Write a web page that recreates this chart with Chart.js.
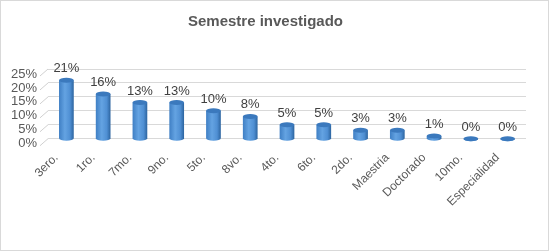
<!DOCTYPE html>
<html>
<head>
<meta charset="utf-8">
<script src="https://cdn.jsdelivr.net/npm/chart.js@4.4.1/dist/chart.umd.min.js"></script>
<style>
  html, body { margin: 0; padding: 0; background: #fff; }
  #caja { width: 549px; height: 251px; box-sizing: border-box; border: 1px solid #d9d9d9; }
  canvas { display: block; }
</style>
</head>
<body>
<div id="caja"><canvas id="grafico" width="547" height="249"></canvas></div>
<script>
const semestres = ['3ero.', '1ro.', '7mo.', '9no.', '5to.', '8vo.', '4to.', '6to.', '2do.', 'Maestria', 'Doctorado', '10mo.', 'Especialidad'];
const porcentajes = [0.21, 0.16, 0.13, 0.13, 0.10, 0.08, 0.05, 0.05, 0.03, 0.03, 0.01, 0.00, 0.00];
const ticksEje = [0, 0.05, 0.10, 0.15, 0.20, 0.25];

// pequeñas diagonales de perspectiva a la izquierda
const fondo3d = {
  id: 'fondo3d',
  afterDraw(chart) {
    const ctx = chart.ctx;
    const area = chart.chartArea;
    const escalaY = chart.scales.y;
    ctx.save();
    ctx.strokeStyle = '#d0d0d0';
    ctx.lineWidth = 1;
    for (const v of ticksEje) {
      const y = escalaY.getPixelForValue(v);
      ctx.beginPath();
      ctx.moveTo(area.left - 8, y + 7);
      ctx.lineTo(area.left, y);
      ctx.stroke();
    }
    ctx.restore();
  }
};

// cilindros y etiquetas de datos
const cilindros = {
  id: 'cilindros',
  afterDatasetsDraw(chart) {
    const { ctx } = chart;
    const meta = chart.getDatasetMeta(0);
    ctx.save();
    meta.data.forEach((barra, i) => {
      const w = barra.width;
      const x0 = barra.x - w / 2;
      const ry = 2.5;
      const top = barra.y;
      const base = barra.base;
      const grad = ctx.createLinearGradient(x0, 0, x0 + w, 0);
      grad.addColorStop(0, '#3f7fc4');
      grad.addColorStop(0.4, '#64a3e2');
      grad.addColorStop(0.75, '#4f8fd3');
      grad.addColorStop(1, '#2c649f');
      ctx.fillStyle = grad;
      ctx.beginPath();
      ctx.moveTo(x0, top);
      ctx.lineTo(x0, base);
      ctx.ellipse(barra.x, base, w / 2, ry, 0, Math.PI, 0, true);
      ctx.lineTo(x0 + w, top);
      ctx.closePath();
      ctx.fill();
      ctx.fillStyle = '#3b79bd';
      ctx.beginPath();
      ctx.ellipse(barra.x, top, w / 2, ry, 0, 0, Math.PI * 2);
      ctx.fill();

      ctx.fillStyle = '#404040';
      ctx.font = '13px "Liberation Sans", Arial, sans-serif';
      ctx.textAlign = 'center';
      ctx.textBaseline = 'bottom';
      ctx.fillText(Math.round(porcentajes[i] * 100) + '%', barra.x, top - 5);
    });
    ctx.restore();
  }
};

new Chart(document.getElementById('grafico'), {
  type: 'bar',
  data: {
    labels: semestres,
    datasets: [{
      data: porcentajes,
      backgroundColor: 'rgba(0,0,0,0)',
      barPercentage: 0.4,
      categoryPercentage: 1
    }]
  },
  options: {
    responsive: false,
    animation: false,
    layout: { padding: { left: 4, right: 22, top: 0, bottom: 37 } },
    plugins: {
      legend: { display: false },
      tooltip: { enabled: false },
      title: {
        display: true,
        text: 'Semestre investigado',
        color: '#595959',
        font: { family: '"Liberation Sans", Arial, sans-serif', size: 15, weight: 'bold' },
        padding: { top: 12, bottom: 38 }
      }
    },
    scales: {
      y: {
        min: 0,
        max: 0.25,
        afterBuildTicks: s => { s.ticks = ticksEje.map(v => ({ value: v })); },
        afterFit: s => { s.width = 43; },
        grid: { display: true, color: '#d9d9d9', lineWidth: 1, drawTicks: false },
        border: { display: false },
        ticks: {
          autoSkip: false,
          padding: 11,
          labelOffset: 5,
          color: '#595959',
          font: { family: '"Liberation Sans", Arial, sans-serif', size: 13 },
          callback: v => Math.round(v * 100) + '%'
        }
      },
      x: {
        afterFit: s => { s.paddingLeft = 0; s.paddingRight = 0; },
        grid: { display: false },
        border: { display: false },
        ticks: {
          autoSkip: false,
          minRotation: 45,
          maxRotation: 45,
          padding: 4,
          labelOffset: -10,
          color: '#595959',
          font: { family: '"Liberation Sans", Arial, sans-serif', size: 12 }
        }
      }
    }
  },
  plugins: [fondo3d, cilindros]
});
</script>
</body>
</html>
